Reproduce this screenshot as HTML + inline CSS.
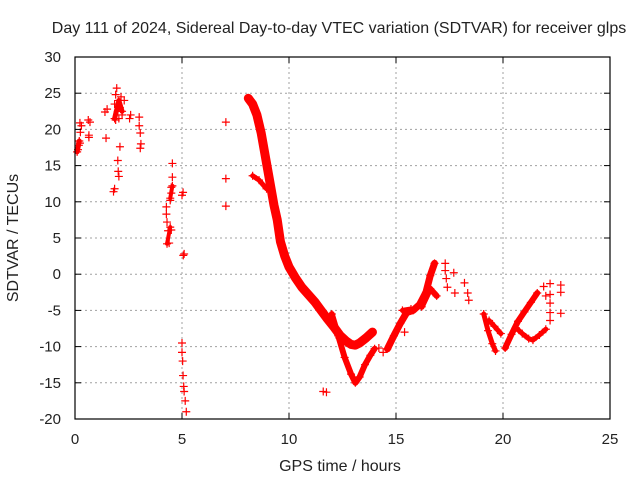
<!DOCTYPE html>
<html><head><meta charset="utf-8"><style>
html,body{margin:0;padding:0;background:#fff;}
svg text{font-family:"Liberation Sans",sans-serif;fill:#222;}
</style></head><body>
<svg id="chart" width="640" height="480" viewBox="0 0 640 480" xmlns="http://www.w3.org/2000/svg">
<rect x="0" y="0" width="640" height="480" fill="#fff"/>
<text x="339" y="33" font-size="16" text-anchor="middle">Day 111 of 2024, Sidereal Day-to-day VTEC variation (SDTVAR) for receiver glps</text>
<g id="grid"></g>
<g id="marks"></g>
<g id="axes"></g>
<text x="340" y="471" font-size="16" text-anchor="middle">GPS time / hours</text>
<text transform="translate(18,238) rotate(-90)" font-size="16" text-anchor="middle">SDTVAR / TECUs</text>
</svg>
<script>
const xTicks=[0,5,10,15,20,25];
const yTicks=[-20,-15,-10,-5,0,5,10,15,20,25,30];
// thick bands (sequential points)
const bandMainT=[8.1,8.3,8.5,8.7,8.85,9.0,9.15,9.3,9.45,9.6,9.8,10.0,10.3,10.6,10.9,11.2,11.5,11.8,12.1,12.4,12.7,12.9,13.1,13.3,13.6,13.9];
const bandMainV=[24.3,23.5,22,19.5,17,14.5,12,9.5,7.5,4.5,2.5,1,-0.5,-1.8,-2.8,-3.8,-5,-6.2,-7.3,-8.5,-9.3,-9.7,-9.8,-9.5,-8.8,-8.0];
const bandLowT=[12.0,12.3,12.6,12.9,13.1,13.3,13.55,13.8,14.0];
const bandLowV=[-5.5,-8.5,-11.5,-13.8,-15,-14.2,-12.5,-11.2,-10.3];
const bandBranchT=[8.3,8.6,8.95];
const bandBranchV=[13.6,13.0,11.8];
const bandRiseT=[14.6,14.9,15.2,15.5,15.8,16.1,16.4,16.6,16.8];
const bandRiseV=[-10.3,-8.5,-6.8,-5.3,-5.0,-4.2,-2.5,-0.2,1.5];
const bandDipAT=[19.1,19.3,19.5,19.65];
const bandDipAV=[-5.5,-7.8,-9.6,-10.6];
const bandDipBT=[19.35,19.6,19.9];
const bandDipBV=[-6.4,-7.2,-8.2];
const bandDipCT=[20.1,20.4,20.7,21.0,21.3,21.6];
const bandDipCV=[-10.2,-8.3,-6.5,-5.2,-3.9,-2.6];
const bandDipDT=[20.6,20.9,21.2,21.4,21.7,22.0];
const bandDipDV=[-7.4,-8.2,-8.9,-9.1,-8.4,-7.6];
// short dense clusters
const clusterAT=[0.1,0.2];
const clusterAV=[16.9,18.4];
const clusterBT=[1.85,2.05,2.2];
const clusterBV=[21.5,24.0,22.5];
const clusterCT=[4.3,4.45];
const clusterCV=[4.2,6.5];
const clusterDT=[4.45,4.55];
const clusterDV=[10.5,12.2];
const clusterET=[16.2,16.6,16.9];
const clusterEV=[-4.5,-2.0,-3.0];
const clusterFT=[15.3,15.7];
const clusterFV=[-5.0,-4.8];
// isolated / clustered points
const scatterT=[0.14,0.18,0.23,0.23,0.25,0.3,0.62,0.65,0.7,0.65,1.4,1.45,1.5,1.95,1.9,1.85,2.0,2.05,2.1,1.9,2.2,2.3,2.15,2.6,2.55,3.0,3.0,3.05,3.05,3.08,2.1,2.0,2.02,2.05,1.8,1.85,4.55,4.55,4.5,4.45,4.5,4.27,4.27,4.3,4.35,4.4,4.5,5.0,5.05,5.06,5.1,7.05,7.05,7.05,5.0,5.0,5.03,5.05,5.08,5.1,5.15,5.2,11.6,11.75,12.2,12.35,14.2,14.4,17.3,17.3,17.35,17.4,17.7,17.75,18.2,18.4,18.35,15.4,22.2,22.2,22.2,22.2,22.2,22.7,22.7,22.7,21.9,22.0];
const scatterV=[17.2,17.8,18.1,20.9,19.6,20.5,21.3,19.2,21.0,18.9,22.4,18.8,22.8,25.7,24.8,23.5,22.5,21.5,23.0,21.3,22.0,24.0,24.5,22.0,21.5,21.7,20.5,19.5,17.4,18.0,17.6,15.7,14.2,13.5,11.4,11.8,15.3,13.4,12.0,10.2,11.2,9.3,8.3,7.2,6.0,4.3,6.1,10.9,11.3,2.6,2.8,21.0,13.2,9.4,-9.5,-10.8,-12.0,-14.0,-15.5,-16.2,-17.5,-19.0,-16.2,-16.3,-7.5,-8.8,-10.2,-10.8,1.5,0.5,-0.6,-1.8,0.2,-2.6,-1.2,-3.6,-2.6,-8.0,-1.3,-2.8,-4.0,-5.3,-6.4,-1.5,-2.5,-5.4,-1.7,-3.0];
</script>
<script>
const X0=75,X1=610,Y0=419,Y1=57;
function sx(t){return X0+(t-0)/(25-0)*(X1-X0);}
function sy(v){return Y0-(v-(-20))/(30-(-20))*(Y0-Y1);}
const NS="http://www.w3.org/2000/svg";
function mk(tag,attrs,parent){const e=document.createElementNS(NS,tag);for(const k in attrs)e.setAttribute(k,attrs[k]);parent.appendChild(e);return e;}
const grid=document.getElementById('grid'),axes=document.getElementById('axes'),marks=document.getElementById('marks');
xTicks.forEach(t=>{
  if(t>0&&t<25){const g=mk('line',{x1:sx(t),x2:sx(t),y1:Y1,y2:Y0,stroke:'#a0a0a0','stroke-dasharray':'2,3','stroke-width':1},grid);
  
  }
  const a=mk('line',{x1:sx(t),x2:sx(t),y1:Y0,y2:Y0-6,stroke:'#000'},axes);
  
  
  const b=mk('line',{x1:sx(t),x2:sx(t),y1:Y1,y2:Y1+6,stroke:'#000'},axes);
  
  
  const l=mk('text',{x:sx(t),y:444,'font-size':15,'text-anchor':'middle'},axes);l.textContent=t;
  
  
});
yTicks.forEach(v=>{
  if(v>-20&&v<30){const g=mk('line',{x1:X0,x2:X1,y1:sy(v),y2:sy(v),stroke:'#a0a0a0','stroke-dasharray':'2,3','stroke-width':1},grid);
  
  }
  const a=mk('line',{x1:X0,x2:X0+6,y1:sy(v),y2:sy(v),stroke:'#000'},axes);
  
  
  const b=mk('line',{x1:X1,x2:X1-6,y1:sy(v),y2:sy(v),stroke:'#000'},axes);
  
  
  const l=mk('text',{x:61,y:sy(v)+5,'font-size':15,'text-anchor':'end'},axes);l.textContent=v;
  
  
});
const frame=mk('rect',{x:X0,y:Y1,width:X1-X0,height:Y0-Y1,fill:'none',stroke:'#000','stroke-width':1.2},axes);


function cross(t,v){
  const p=mk('path',{d:`M${sx(t)-4},${sy(v)}h8M${sx(t)},${sy(v)-4}v8`,stroke:'#f00','stroke-width':1.2,fill:'none'},marks);
  
  
}
function band(T,V,w){
  const pts=T.map((t,i)=>sx(t)+','+sy(V[i])).join(' ');
  const p=mk('polyline',{points:pts,fill:'none',stroke:'#f00','stroke-width':w,'stroke-linecap':'round','stroke-linejoin':'round'},marks);
  
  
  T.forEach((t,i)=>cross(t,V[i]));
}
band(bandMainT,bandMainV,9);
band(bandLowT,bandLowV,6);
band(bandBranchT,bandBranchV,5);
band(bandRiseT,bandRiseV,7);
band(bandDipAT,bandDipAV,5);
band(bandDipBT,bandDipBV,5);
band(bandDipCT,bandDipCV,6);
band(bandDipDT,bandDipDV,5);
band(clusterAT,clusterAV,5);
band(clusterBT,clusterBV,5);
band(clusterCT,clusterCV,4);
band(clusterDT,clusterDV,4);
band(clusterET,clusterEV,6);
band(clusterFT,clusterFV,5);
scatterT.forEach((t,i)=>cross(t,scatterV[i]));
</script>
</body></html>
